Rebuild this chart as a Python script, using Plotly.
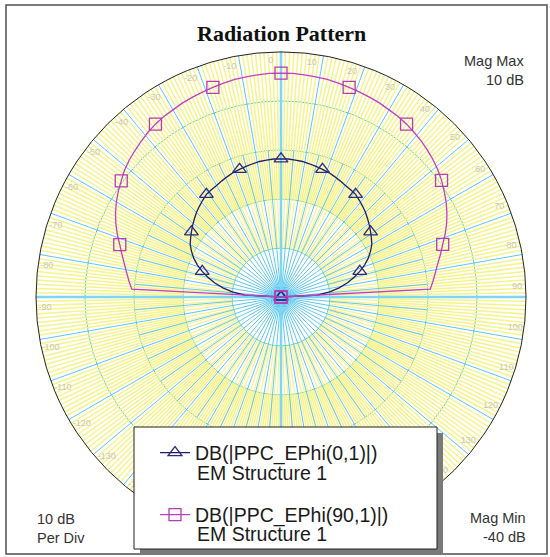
import numpy as np
import plotly.graph_objects as go

# ---- chart data -----------------------------------------------------------
# elevation angle (deg), 0 = broadside, sampled every 3 degrees
theta_deg = list(range(-90, 91, 3))

# DB(|PPC_EPhi(0,1)|)  [dB]
ephi_0 = [
    -40.0, -32.6, -30.0, -28.0, -26.2, -24.6, -23.1, -21.7, -20.5, -19.5,
    -18.6, -18.0, -17.4, -16.8, -16.2, -15.6, -15.1, -14.6, -14.1, -13.9,
    -13.7, -13.4, -13.1, -12.8, -12.6, -12.4, -12.2, -12.0, -11.9, -11.8,
    -11.8,
    -11.8, -11.9, -12.0, -12.2, -12.4, -12.6, -12.8, -13.1, -13.4, -13.7,
    -13.9, -14.1, -14.6, -15.1, -15.6, -16.2, -16.8, -17.4, -18.0, -18.6,
    -19.5, -20.5, -21.7, -23.1, -24.6, -26.2, -28.0, -30.0, -32.6, -40.0,
]

# DB(|PPC_EPhi(90,1)|)  [dB]
ephi_90 = [
    -40.0, -9.5, -8.8, -8.1, -7.3, -6.4, -5.4, -4.2, -3.1, -2.1,
    -1.2, -0.4, 0.3, 1.1, 1.7, 2.2, 2.7, 3.2, 3.6, 3.9,
    4.1, 4.4, 4.6, 4.8, 5.0, 5.2, 5.4, 5.5, 5.6, 5.7,
    5.7,
    5.7, 5.6, 5.5, 5.4, 5.2, 5.0, 4.8, 4.6, 4.4, 4.1,
    3.9, 3.6, 3.2, 2.8, 2.3, 1.8, 1.2, 0.5, -0.3, -1.1,
    -2.0, -3.0, -4.1, -5.3, -6.3, -7.3, -8.1, -8.8, -9.5, -40.0,
]

series_names = ["DB(|PPC_EPhi(0,1)|)", "DB(|PPC_EPhi(90,1)|)"]
series_sub = "EM Structure 1"

mag_max = 10
mag_min = -40
per_div = 10

angle_ticks = list(range(-170, 181, 10))

# ---- helpers ----------------------------------------------------------------
W, H = 550, 557


def px(x):
    return x / W


def py(y):
    return 1 - y / H


marker_every = 18  # a marker is drawn every 18 degrees


def marker_colors(color):
    return [color if t % marker_every == 0 else "rgba(0,0,0,0)"
            for t in theta_deg]


def spokes(step, r0, r1, skip):
    th, rr = [], []
    for a in np.arange(0, 360, step):
        if any(abs(a % s) < 1e-9 for s in skip):
            continue
        th += [a, a, None]
        rr += [r0, r1, None]
    return th, rr


fig = go.Figure()

yellow = "#f6f38c"
# fine yellow spokes filling the chart disc
th, rr = spokes(1, -20, mag_max, [10])
fig.add_trace(go.Scatterpolar(theta=th, r=rr, mode="lines",
                              line=dict(color=yellow, width=1.5),
                              hoverinfo="skip", showlegend=False))
th, rr = spokes(2, -30, -20, [10])
fig.add_trace(go.Scatterpolar(theta=th, r=rr, mode="lines",
                              line=dict(color=yellow, width=1.1),
                              hoverinfo="skip", showlegend=False))
# intermediate 5-degree spokes in the inner rings
th, rr = spokes(5, mag_min, -10, [10])
fig.add_trace(go.Scatterpolar(theta=th, r=rr, mode="lines",
                              line=dict(color="#62c8ee", width=1),
                              hoverinfo="skip", showlegend=False))
# main axes (0/180 and 90/270)
th, rr = spokes(90, mag_min, mag_max, [])
fig.add_trace(go.Scatterpolar(theta=th, r=rr, mode="lines",
                              line=dict(color="#7fd6f2", width=2.5),
                              hoverinfo="skip", showlegend=False))

# angle labels inside the rim
fig.add_trace(go.Scatterpolar(
    theta=[t - 2.5 for t in angle_ticks], r=[8.2] * len(angle_ticks),
    text=[str(t) for t in angle_ticks], mode="text",
    textfont=dict(family="Liberation Sans", size=9, color="#c8c8b4"),
    hoverinfo="skip", showlegend=False))

# radiation pattern curves
fig.add_trace(go.Scatterpolar(
    theta=theta_deg, r=ephi_0, mode="lines+markers", name=series_names[0],
    line=dict(color="#1e1e70", width=1.3),
    marker=dict(symbol="triangle-up-open", size=12,
                color=marker_colors("#2a2a80"), line=dict(width=1.3)),
    legend="legend"))
fig.add_trace(go.Scatterpolar(
    theta=theta_deg, r=ephi_90, mode="lines+markers", name=series_names[1],
    line=dict(color="#c23ec2", width=1.3),
    marker=dict(symbol="square-open", size=12,
                color=marker_colors("#b43cb4"), line=dict(width=1.3)),
    legend="legend2"))

# ---- layout -----------------------------------------------------------------
cx, cy, R = 281, 297, 245
legend_font = dict(family="Liberation Sans", size=19.5, color="#1a1a1a")
label_font = dict(family="Liberation Sans", size=14.5, color="#333333")

shapes = [
    # outer frame
    dict(type="rect", xref="paper", yref="paper", x0=px(6), x1=px(547),
         y0=py(554), y1=py(5), line=dict(color="#505050", width=1.5),
         layer="below"),
    # legend shadow and box
    dict(type="rect", xref="paper", yref="paper", x0=px(140), x1=px(443),
         y0=py(555), y1=py(433), fillcolor="#7a7a7a", line=dict(width=0),
         layer="above"),
    dict(type="rect", xref="paper", yref="paper", x0=px(134), x1=px(437),
         y0=py(549), y1=py(427), fillcolor="white",
         line=dict(color="#202020", width=1), layer="above"),
]

annotations = [
    dict(text="<b>Radiation Pattern</b>", x=px(cx), y=py(33), xref="paper",
         yref="paper", showarrow=False, xanchor="center", yanchor="middle",
         font=dict(family="Liberation Serif", size=22, color="#111111")),
    dict(text="Mag Max", x=px(526), y=py(61), xref="paper", yref="paper",
         showarrow=False, xanchor="right", yanchor="middle", font=label_font),
    dict(text=f"{mag_max} dB", x=px(526), y=py(80), xref="paper", yref="paper",
         showarrow=False, xanchor="right", yanchor="middle", font=label_font),
    dict(text=f"{per_div} dB", x=px(35), y=py(519), xref="paper", yref="paper",
         showarrow=False, xanchor="left", yanchor="middle", font=label_font),
    dict(text="Per Div", x=px(35), y=py(538), xref="paper", yref="paper",
         showarrow=False, xanchor="left", yanchor="middle", font=label_font),
    dict(text="Mag Min", x=px(528), y=py(518), xref="paper", yref="paper",
         showarrow=False, xanchor="right", yanchor="middle", font=label_font),
    dict(text=f"{mag_min} dB", x=px(528), y=py(537), xref="paper",
         yref="paper", showarrow=False, xanchor="right", yanchor="middle",
         font=label_font),
    dict(text=series_sub, x=px(195), y=py(473), xref="paper", yref="paper",
         showarrow=False, xanchor="left", yanchor="middle", font=legend_font),
    dict(text=series_sub, x=px(195), y=py(534), xref="paper", yref="paper",
         showarrow=False, xanchor="left", yanchor="middle", font=legend_font),
]

legend_common = dict(xanchor="left", yanchor="middle", bgcolor="rgba(0,0,0,0)",
                     borderwidth=0, font=legend_font)

fig.update_layout(
    width=W, height=H,
    margin=dict(l=0, r=0, t=0, b=0),
    paper_bgcolor="white",
    showlegend=True,
    polar=dict(
        domain=dict(x=[px(cx - R), px(cx + R)], y=[py(cy + R), py(cy - R)]),
        bgcolor="white",
        radialaxis=dict(range=[mag_min, mag_max],
                        tickvals=list(range(mag_min + per_div, mag_max, per_div)),
                        showticklabels=False, ticks="", showline=False,
                        gridcolor="#58cfc0", gridwidth=1),
        angularaxis=dict(rotation=90, direction="clockwise", tickmode="linear",
                         tick0=0, dtick=10, showticklabels=False, ticks="",
                         gridcolor="#5cc6ee", gridwidth=1,
                         showline=True, linecolor="#222222", linewidth=1),
    ),
    legend=dict(x=px(155), y=py(453), **legend_common),
    legend2=dict(x=px(155), y=py(515), **legend_common),
    shapes=shapes,
    annotations=annotations,
)

fig.write_html("out.html")
